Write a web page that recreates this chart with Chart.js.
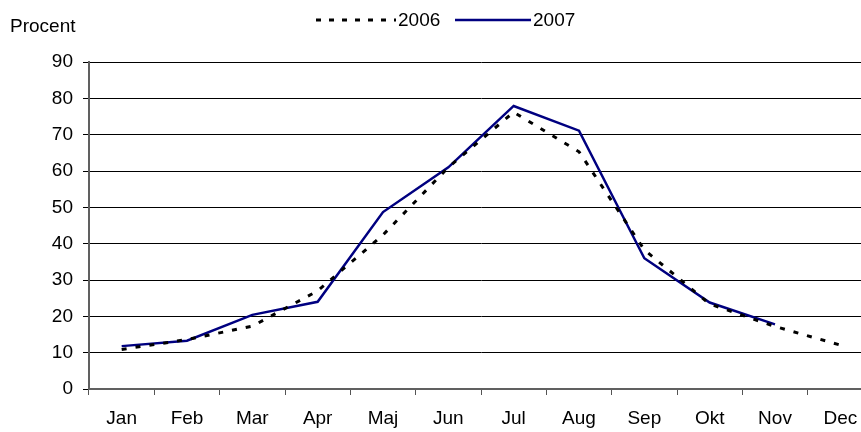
<!DOCTYPE html>
<html>
<head>
<meta charset="utf-8">
<script src="https://cdn.jsdelivr.net/npm/chart.js@4"></script>
<style>
  html, body { margin: 0; padding: 0; overflow: hidden; background: #fff; }
  #wrap { width: 874px; height: 432px; }
</style>
</head>
<body>
<div id="wrap"><canvas id="myChart" width="874" height="432"></canvas></div>
<script>
const months = ["Jan", "Feb", "Mar", "Apr", "Maj", "Jun", "Jul", "Aug", "Sep", "Okt", "Nov", "Dec"];
const values2006 = [10.9, 13.6, 17.3, 27, 42.4, 61, 76.2, 65.3, 38.3, 23.4, 17.2, 12.1];
const values2007 = [11.8, 13.3, 20.4, 24.0, 48.7, 61, 77.9, 71.1, 36.0, 23.8, 17.8, null];
const yMin = 0, yMax = 90, yStep = 10;

const FONT = "'Liberation Sans', Arial, sans-serif";
const FSIZE = 19;

// legend and "Procent" label drawn by hand
const extraText = {
  id: "extraText",
  afterDraw(chart) {
    const c = chart.ctx;
    c.save();
    c.font = FSIZE + "px " + FONT;
    c.fillStyle = "#000";
    c.textBaseline = "middle";
    c.fillText("Procent", 10, 27);

    c.lineWidth = 3;
    c.strokeStyle = "#000";
    c.setLineDash([5, 8]);
    c.beginPath();
    c.moveTo(316, 20);
    c.lineTo(396, 20);
    c.stroke();
    c.fillText("2006", 398, 21);

    c.setLineDash([]);
    c.lineWidth = 2.5;
    c.strokeStyle = "#000080";
    c.beginPath();
    c.moveTo(455, 20);
    c.lineTo(531, 20);
    c.stroke();
    c.fillText("2007", 533, 21);
    c.restore();
  },
};

const ctx = document.getElementById("myChart");
new Chart(ctx, {
  type: "line",
  data: {
    labels: months,
    datasets: [
      {
        label: "2006",
        data: values2006,
        borderColor: "#000",
        borderWidth: 3,
        borderDash: [5, 9],
        pointRadius: 0,
        tension: 0,
      },
      {
        label: "2007",
        data: values2007,
        borderColor: "#000080",
        borderWidth: 2.5,
        pointRadius: 0,
        tension: 0,
        spanGaps: false,
      },
    ],
  },
  options: {
    responsive: false,
    animation: false,
    layout: { padding: { top: 62, left: 0, right: 1, bottom: 0 } },
    plugins: {
      legend: { display: false },
      tooltip: { enabled: false },
    },
    scales: {
      x: {
        offset: true,
        grid: {
          offset: true,
          drawOnChartArea: false,
          color: "#555",
          tickLength: 6,
        },
        border: { color: "#606060", width: 2 },
        ticks: {
          color: "#000",
          font: { family: FONT, size: FSIZE },
          padding: 12,
          maxRotation: 0,
          autoSkip: false,
        },
        afterFit(scale) { scale.height = 43; },
      },
      y: {
        min: yMin,
        max: yMax,
        ticks: {
          stepSize: yStep,
          color: "#000",
          font: { family: FONT, size: FSIZE },
          padding: 10,
        },
        grid: { color: "#000", lineWidth: 1, tickLength: 6 },
        border: { color: "#606060", width: 2 },
        afterFit(scale) { scale.width = 89; },
      },
    },
  },
  plugins: [extraText],
});
</script>
</body>
</html>
